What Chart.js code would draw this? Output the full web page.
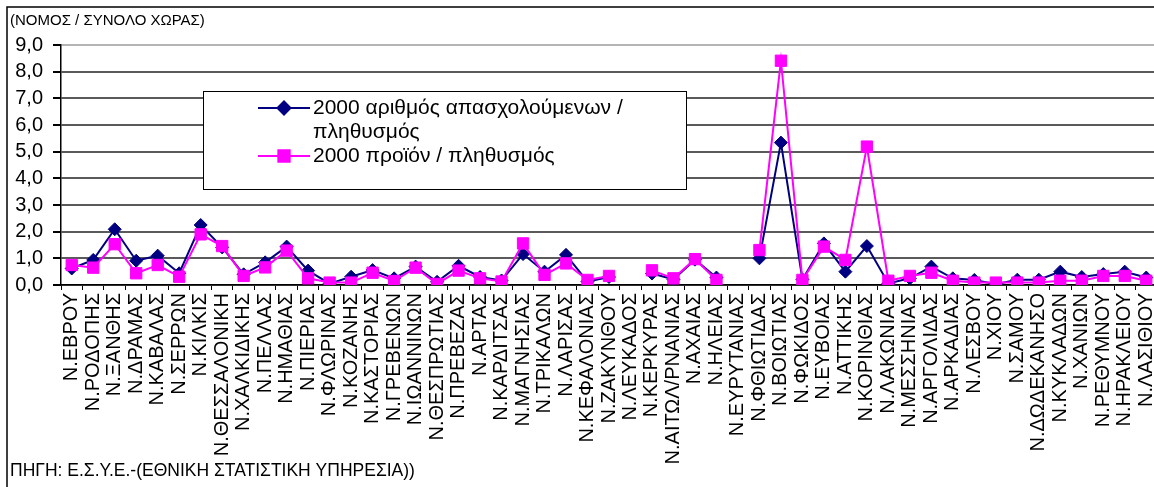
<!DOCTYPE html>
<html>
<head>
<meta charset="utf-8">
<script src="https://cdn.jsdelivr.net/npm/chart.js@4.4.1/dist/chart.umd.min.js"></script>
<style>
  html, body { margin: 0; padding: 0; background: #fff; overflow: hidden; }
  #wrap { width: 1166px; height: 487px; }
</style>
</head>
<body>
<div id="wrap"><canvas id="mychart" width="1166" height="487"></canvas></div>
<script>
const nomoi = [
  'Ν.ΕΒΡΟΥ', 'Ν.ΡΟΔΟΠΗΣ', 'Ν.ΞΑΝΘΗΣ', 'Ν.ΔΡΑΜΑΣ', 'Ν.ΚΑΒΑΛΑΣ', 'Ν.ΣΕΡΡΩΝ', 'Ν.ΚΙΛΚΙΣ',
  'Ν.ΘΕΣΣΑΛΟΝΙΚΗ', 'Ν.ΧΑΛΚΙΔΙΚΗΣ', 'Ν.ΠΕΛΛΑΣ', 'Ν.ΗΜΑΘΙΑΣ', 'Ν.ΠΙΕΡΙΑΣ', 'Ν.ΦΛΩΡΙΝΑΣ',
  'Ν.ΚΟΖΑΝΗΣ', 'Ν.ΚΑΣΤΟΡΙΑΣ', 'Ν.ΓΡΕΒΕΝΩΝ', 'Ν.ΙΩΑΝΝΙΝΩΝ', 'Ν.ΘΕΣΠΡΩΤΙΑΣ', 'Ν.ΠΡΕΒΕΖΑΣ',
  'Ν.ΑΡΤΑΣ', 'Ν.ΚΑΡΔΙΤΣΑΣ', 'Ν.ΜΑΓΝΗΣΙΑΣ', 'Ν.ΤΡΙΚΑΛΩΝ', 'Ν.ΛΑΡΙΣΑΣ', 'Ν.ΚΕΦΑΛΟΝΙΑΣ',
  'Ν.ΖΑΚΥΝΘΟΥ', 'Ν.ΛΕΥΚΑΔΟΣ', 'Ν.ΚΕΡΚΥΡΑΣ', 'Ν.ΑΙΤΩΛ/ΡΝΑΝΙΑΣ', 'Ν.ΑΧΑΙΑΣ', 'Ν.ΗΛΕΙΑΣ',
  'Ν.ΕΥΡΥΤΑΝΙΑΣ', 'Ν.ΦΘΙΩΤΙΔΑΣ', 'Ν.ΒΟΙΩΤΙΑΣ', 'Ν.ΦΩΚΙΔΟΣ', 'Ν.ΕΥΒΟΙΑΣ', 'Ν.ΑΤΤΙΚΗΣ',
  'Ν.ΚΟΡΙΝΘΙΑΣ', 'Ν.ΛΑΚΩΝΙΑΣ', 'Ν.ΜΕΣΣΗΝΙΑΣ', 'Ν.ΑΡΓΟΛΙΔΑΣ', 'Ν.ΑΡΚΑΔΙΑΣ', 'Ν.ΛΕΣΒΟΥ',
  'Ν.ΧΙΟΥ', 'Ν.ΣΑΜΟΥ', 'Ν.ΔΩΔΕΚΑΝΗΣΟ', 'Ν.ΚΥΚΛΑΔΩΝ', 'Ν.ΧΑΝΙΩΝ', 'Ν.ΡΕΘΥΜΝΟΥ',
  'Ν.ΗΡΑΚΛΕΙΟΥ', 'Ν.ΛΑΣΙΘΙΟΥ'
];

// 2000 αριθμός απασχολούμενων / πληθυσμός
const apasxoloumenoi = [
  0.62, 0.94, 2.09, 0.91, 1.10, 0.44, 2.25, 1.41, 0.40, 0.85, 1.44, 0.54, 0.05,
  0.31, 0.56, 0.25, 0.69, 0.12, 0.72, 0.30, 0.17, 1.16, 0.50, 1.13, 0.13,
  0.30, null, 0.43, 0.21, 0.95, 0.28, null, 1.00, 5.34, 0.21, 1.56, 0.50,
  1.46, 0.06, 0.25, 0.69, 0.25, 0.19, 0.03, 0.20, 0.20, 0.50, 0.30, 0.41,
  0.50, 0.28
];

// 2000 προϊόν / πληθυσμός
const proion = [
  0.75, 0.65, 1.53, 0.44, 0.75, 0.31, 1.90, 1.46, 0.34, 0.66, 1.29, 0.25, 0.09,
  0.09, 0.46, 0.15, 0.65, 0.04, 0.54, 0.25, 0.13, 1.56, 0.38, 0.81, 0.19,
  0.34, null, 0.55, 0.25, 0.97, 0.19, null, 1.31, 8.41, 0.19, 1.44, 0.94,
  5.19, 0.16, 0.34, 0.46, 0.16, 0.09, 0.09, 0.09, 0.09, 0.16, 0.16, 0.34,
  0.34, 0.16
];

const seiresOnomata = ['2000 αριθμός απασχολούμενων / πληθυσμός', '2000 προϊόν / πληθυσμός'];
const yTickLabels = ['0,0', '1,0', '2,0', '3,0', '4,0', '5,0', '6,0', '7,0', '8,0', '9,0'];
const titlos = '(ΝΟΜΟΣ / ΣΥΝΟΛΟ ΧΩΡΑΣ)';
const pigi = 'ΠΗΓΗ: Ε.Σ.Υ.Ε.-(ΕΘΝΙΚΗ ΣΤΑΤΙΣΤΙΚΗ ΥΠΗΡΕΣΙΑ))';

const FONT = "'Liberation Sans', Arial, sans-serif";
Chart.defaults.font.family = FONT;
Chart.defaults.color = '#000';

// frame, title, source and the boxed legend inside the plot
const keimena = {
  id: 'keimena',
  afterDraw(chart) {
    const ctx = chart.ctx;
    ctx.save();
    ctx.strokeStyle = '#000';
    ctx.lineWidth = 1.5;
    ctx.beginPath();
    ctx.moveTo(7, 487);
    ctx.lineTo(7, 7);
    ctx.lineTo(chart.width, 7);
    ctx.stroke();

    ctx.fillStyle = '#000';
    ctx.textBaseline = 'middle';
    ctx.textAlign = 'left';
    ctx.font = '15px ' + FONT;
    ctx.fillText(titlos, 10, 21);
    ctx.font = '17.5px ' + FONT;
    ctx.fillText(pigi, 10, 471);

    // legend box
    const bx = 203, by = 91, bw = 483, bh = 98;
    ctx.fillStyle = '#fff';
    ctx.fillRect(bx, by, bw, bh);
    ctx.lineWidth = 1;
    ctx.strokeRect(bx + 0.5, by + 0.5, bw, bh);

    ctx.font = '21px ' + FONT;
    let y = 108;
    chart.data.datasets.forEach((ds) => {
      ctx.strokeStyle = ds.borderColor;
      ctx.lineWidth = 2;
      ctx.beginPath();
      ctx.moveTo(258, y);
      ctx.lineTo(310, y);
      ctx.stroke();
      Chart.helpers.drawPoint(ctx, {
        pointStyle: ds.pointStyle, radius: ds.pointRadius, rotation: 0, borderWidth: 1
      }, 284, y);
      ctx.fillStyle = ds.backgroundColor;
      ctx.fill();
      ctx.fillStyle = '#000';
      // wrap the label text
      const words = ds.label.split(' ');
      let line = '';
      words.forEach((w) => {
        const test = line ? line + ' ' + w : w;
        if (ctx.measureText(test).width > 365 && line) {
          ctx.fillText(line, 313, y);
          line = w;
          y += 24;
        } else {
          line = test;
        }
      });
      ctx.fillText(line, 313, y);
      y += 24;
    });
    ctx.restore();
  }
};

const ctx = document.getElementById('mychart');
new Chart(ctx, {
  type: 'line',
  data: {
    labels: nomoi,
    datasets: [{
      label: seiresOnomata[0],
      data: apasxoloumenoi,
      borderColor: '#000080',
      backgroundColor: '#000080',
      borderWidth: 2,
      pointStyle: 'rectRot',
      pointRadius: 6.5,
      pointBorderWidth: 1,
      order: 2
    }, {
      label: seiresOnomata[1],
      data: proion,
      borderColor: '#ff00ff',
      backgroundColor: '#ff00ff',
      borderWidth: 2,
      pointStyle: 'rect',
      pointRadius: 8,
      pointBorderWidth: 1,
      order: 1
    }]
  },
  options: {
    responsive: false,
    animation: false,
    layout: { padding: { left: 8, top: 45, right: 0, bottom: 0 } },
    plugins: {
      legend: { display: false },
      tooltip: { enabled: false }
    },
    scales: {
      x: {
        offset: true,
        grid: { offset: true, drawOnChartArea: false, tickLength: 5, tickColor: '#000', lineWidth: 1 },
        border: { color: '#000', width: 1.5 },
        ticks: { autoSkip: false, maxRotation: 90, minRotation: 90, padding: 3, font: { size: 20 } },
        afterFit(scale) {
          scale.height = 202;
          scale.paddingLeft = 0;
          scale.paddingRight = 0;
        }
      },
      y: {
        min: 0,
        max: 9,
        ticks: {
          stepSize: 1,
          autoSkip: false,
          padding: 10,
          font: { size: 20 },
          callback: (v, i) => yTickLabels[i]
        },
        grid: {
          color: (c) => (c.tick && c.tick.value === 9 ? '#b4b4b4' : '#5a5a5a'),
          lineWidth: 2,
          tickLength: 8,
          tickColor: '#000'
        },
        border: { color: '#000', width: 1.5 },
        afterFit(scale) {
          scale.width = 53;
        }
      }
    }
  },
  plugins: [keimena]
});
</script>
</body>
</html>
